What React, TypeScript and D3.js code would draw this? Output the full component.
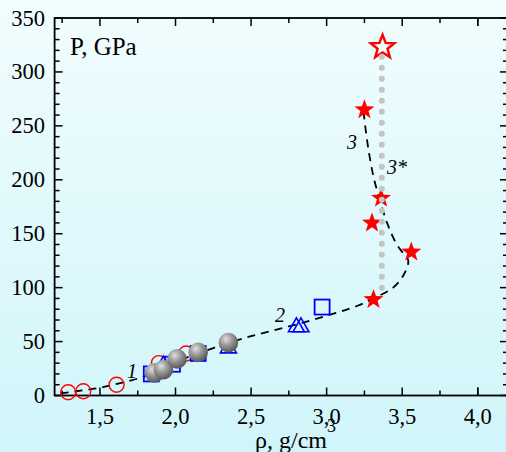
import React from "react";
import * as d3 from "d3";

// Series 1: red open circles
const circleRho = [1.29, 1.39, 1.61, 1.89, 2.07];
const circleP = [3, 4, 10, 30, 39];
// Blue open squares
const squareRho = [1.84, 1.98, 2.15, 2.97];
const squareP = [20, 29, 39, 82];
// Blue open triangles
const triangleRho = [1.92, 2.35, 2.8, 2.83];
const triangleP = [30, 46, 65.5, 65.5];
// Grey spheres
const sphereRho = [1.86, 1.92, 2.01, 2.15, 2.35];
const sphereP = [21, 24, 34, 40, 49];
// Red filled stars
const starRho = [3.31, 3.56, 3.3, 3.36, 3.25];
const starP = [89, 133, 160, 183, 265];
// Red open star
const openStarRho = [3.37];
const openStarP = [323];
// Dashed guide curve (1-2-3)
const curveRho = [1.24, 1.32, 1.48, 1.62, 1.8, 2.0, 2.25, 2.5, 2.75, 3.0, 3.2, 3.31, 3.44, 3.51, 3.54, 3.5, 3.46, 3.4, 3.35, 3.31, 3.28, 3.255, 3.245];
const curveP = [2, 3.5, 6.7, 11, 18, 31, 44, 55, 64, 74, 83, 90, 100, 112, 125, 133, 141, 160, 182, 203, 225, 250, 262];
// Dotted vertical line 3*
const dotRho = [3.365, 3.365];
const dotP = [99, 314];

const xTicks = [1.5, 2.0, 2.5, 3.0, 3.5, 4.0];
const xMinorTicks = [1.25, 1.75, 2.25, 2.75, 3.25, 3.75, 4.0];
const yTicks = [0, 50, 100, 150, 200, 250, 300, 350];

const W = 506;
const H = 452;
const left = 54.6;
const right = 508;
const top = 18;
const bottom = 395.5;

const x = d3.scaleLinear().domain([1.2, 4.2]).range([left, right]);
const y = d3.scaleLinear().domain([0, 350]).range([bottom, top]);

const serif = "'Liberation Serif', 'Times New Roman', serif";

function starPath(cx: number, cy: number, R: number, r: number) {
  const pts: [number, number][] = [];
  for (let i = 0; i < 10; i++) {
    const a = -Math.PI / 2 + (i * Math.PI) / 5;
    const rad = i % 2 === 0 ? R : r;
    pts.push([cx + rad * Math.cos(a), cy + rad * Math.sin(a)]);
  }
  return "M" + pts.map((p) => p.join(",")).join("L") + "Z";
}

function triPath(cx: number, cy: number, s: number) {
  const h = s * 0.87;
  return `M${cx - s / 2},${cy + h / 2}L${cx},${cy - h / 2}L${cx + s / 2},${cy + h / 2}Z`;
}

const fmt = (v: number) => v.toFixed(1).replace(".", ",");

export default function App() {
  const line = d3
    .line<number>()
    .x((d, i) => x(curveRho[i]))
    .y((d, i) => y(curveP[i]))
    .curve(d3.curveCatmullRom.alpha(0.5));

  const yMinor = d3.range(0, 351, 10);

  return (
    <svg
      width={W}
      height={H}
      style={{ position: "absolute", left: 0, top: 0 }}
      fontFamily={serif}
    >
      <defs>
        <linearGradient id="bg" x1="0" y1="0" x2="0" y2="1">
          <stop offset="0" stopColor="#f1fdfe" />
          <stop offset="1" stopColor="#d0f5fa" />
        </linearGradient>
        <radialGradient id="ball" cx="0.38" cy="0.32" r="0.7">
          <stop offset="0" stopColor="#e0e0e0" />
          <stop offset="0.45" stopColor="#9a9a9a" />
          <stop offset="1" stopColor="#555555" />
        </radialGradient>
      </defs>
      <rect x={0} y={0} width={W} height={H} fill="url(#bg)" />

      {/* frame */}
      <rect
        x={left}
        y={top}
        width={right - left}
        height={bottom - top}
        fill="none"
        stroke="#000"
        strokeWidth={1.8}
      />

      {/* y ticks, left and right */}
      {yMinor.map((v) => {
        const major = v % 50 === 0;
        const len = major ? 8 : 5;
        return (
          <g key={"yt" + v} stroke="#000" strokeWidth={1.5}>
            <line x1={left} x2={left + len} y1={y(v)} y2={y(v)} />
            <line x1={right} x2={right - len} y1={y(v)} y2={y(v)} />
          </g>
        );
      })}
      {/* x ticks, bottom and top */}
      {xMinorTicks.concat(xTicks).map((v, i) => {
        const major = xTicks.includes(v);
        const len = major ? 8 : 5;
        return (
          <g key={"xt" + i} stroke="#000" strokeWidth={1.5}>
            <line x1={x(v)} x2={x(v)} y1={bottom} y2={bottom - len} />
            <line x1={x(v)} x2={x(v)} y1={top} y2={top + len} />
          </g>
        );
      })}

      {yTicks.map((v) => (
        <text key={"yl" + v} x={45} y={y(v) + 7.5} textAnchor="end" fontSize={22.5} fill="#000">
          {v}
        </text>
      ))}
      {xTicks.map((v) => (
        <text key={"xl" + v} x={x(v)} y={424} textAnchor="middle" fontSize={22.5} fill="#000">
          {fmt(v)}
        </text>
      ))}

      <text x={70} y={55} fontSize={25} fill="#000">
        P, GPa
      </text>
      <text x={255} y={448} fontSize={24} fill="#000">
        ρ, g/cm
        <tspan dy={-16} fontSize={18}>3</tspan>
      </text>

      {/* dashed curve */}
      <path
        d={line(curveRho) || ""}
        fill="none"
        stroke="#000"
        strokeWidth={1.8}
        strokeDasharray="8,6"
      />

      {/* circles */}
      {circleRho.map((r, i) => (
        <circle key={"c" + i} cx={x(r)} cy={y(circleP[i])} r={7.5} fill="none" stroke="#ff0000" strokeWidth={1.4} />
      ))}
      {/* squares */}
      {squareRho.map((r, i) => (
        <rect
          key={"s" + i}
          x={x(r) - 7.5}
          y={y(squareP[i]) - 7.5}
          width={15}
          height={15}
          fill="none"
          stroke="#0000ff"
          strokeWidth={1.8}
        />
      ))}
      {/* triangles */}
      {triangleRho.map((r, i) => (
        <path key={"t" + i} d={triPath(x(r), y(triangleP[i]), 16)} fill="none" stroke="#0000ff" strokeWidth={1.6} />
      ))}
      {/* spheres */}
      {sphereRho.map((r, i) => (
        <circle key={"b" + i} cx={x(r)} cy={y(sphereP[i])} r={9.8} fill="url(#ball)" />
      ))}
      {/* filled stars */}
      {starRho.map((r, i) => (
        <path key={"st" + i} d={starPath(x(r), y(starP[i]), 10.5, 4.3)} fill="#ff0000" />
      ))}
      {/* open star */}
      {openStarRho.map((r, i) => (
        <path
          key={"os" + i}
          d={starPath(x(r), y(openStarP[i]), 12.5, 5.2)}
          fill="#ffffff"
          fillOpacity={0.6}
          stroke="#ff0000"
          strokeWidth={2.4}
        />
      ))}

      {/* dotted vertical 3* */}
      <line
        x1={x(dotRho[0])}
        x2={x(dotRho[1])}
        y1={y(dotP[1])}
        y2={y(dotP[0])}
        stroke="#c4c4c4"
        strokeWidth={6}
        strokeLinecap="round"
        strokeDasharray="0,11"
      />

      <g fontStyle="italic" fontSize={20} fill="#000">
        <text x={127} y={378}>1</text>
        <text x={275} y={322}>2</text>
        <text x={347} y={149}>3</text>
        <text x={387} y={174}>3*</text>
      </g>
    </svg>
  );
}
